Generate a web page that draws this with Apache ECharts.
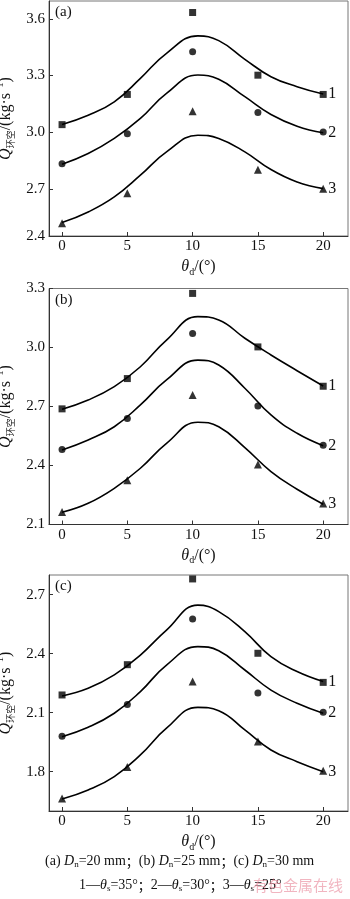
<!DOCTYPE html>
<html><head><meta charset="utf-8">
<script src="https://cdn.jsdelivr.net/npm/echarts@6/dist/echarts.min.js"></script>
<style>html,body{margin:0;padding:0;background:#fff;}#c{width:350px;height:899px;}</style>
</head><body><div id="c"></div>
<script>
// Nozzle deflection angle θd (°) for measured points and for the fitted curves
const thetaD = [0, 5, 10, 15, 20];
const xTickValues = [0, 5, 10, 15, 20];
const curveX = [0, 2, 4, 6, 8, 10.4, 12, 14, 16, 18, 20];

// (a) Dn = 20 mm — measured annular flow
const pointsA1 = [3.04, 3.20, 3.634, 3.302, 3.20];
const pointsA2 = [2.833, 2.992, 3.426, 3.104, 3.001];
const pointsA3 = [2.517, 2.677, 3.111, 2.801, 2.70];
// (a) fitted curves
const curveA1 = [3.041, 3.090, 3.161, 3.285, 3.418, 3.510, 3.485, 3.386, 3.294, 3.241, 3.202];
const curveA2 = [2.830, 2.887, 2.967, 3.073, 3.206, 3.303, 3.280, 3.188, 3.094, 3.032, 2.997];
const curveA3 = [2.521, 2.577, 2.657, 2.772, 2.896, 2.984, 2.967, 2.896, 2.802, 2.736, 2.701];

// (b) Dn = 25 mm
const pointsB1 = [2.688, 2.842, 3.275, 3.003, 2.803];
const pointsB2 = [2.481, 2.639, 3.071, 2.702, 2.503];
const pointsB3 = [2.164, 2.325, 2.758, 2.405, 2.207];
const curveB1 = [2.686, 2.733, 2.801, 2.902, 3.038, 3.157, 3.140, 3.047, 2.962, 2.882, 2.804];
const curveB2 = [2.479, 2.530, 2.597, 2.708, 2.835, 2.936, 2.911, 2.793, 2.657, 2.564, 2.501];
const curveB3 = [2.162, 2.208, 2.284, 2.386, 2.513, 2.620, 2.597, 2.491, 2.369, 2.279, 2.203];

// (c) Dn = 30 mm
const pointsC1 = [2.190, 2.344, 2.780, 2.402, 2.254];
const pointsC2 = [1.980, 2.141, 2.576, 2.200, 2.102];
const pointsC3 = [1.664, 1.824, 2.259, 1.953, 1.805];
const curveC1 = [2.185, 2.224, 2.292, 2.393, 2.520, 2.647, 2.614, 2.512, 2.385, 2.309, 2.258];
const curveC2 = [1.978, 2.026, 2.097, 2.207, 2.342, 2.436, 2.415, 2.317, 2.215, 2.148, 2.097];
const curveC3 = [1.661, 1.707, 1.775, 1.885, 2.021, 2.127, 2.110, 2.012, 1.910, 1.851, 1.800];

// Y-axis ticks and labels per panel
const yTickValuesA = [2.45, 2.7, 3.0, 3.3, 3.6];
const yTickLabelsA = ['2.4', '2.7', '3.0', '3.3', '3.6'];
const yTickValuesB = [2.1, 2.4, 2.7, 3.0, 3.3];
const yTickLabelsB = ['2.1', '2.4', '2.7', '3.0', '3.3'];
const yTickValuesC = [1.8, 2.1, 2.4, 2.7];
const yTickLabelsC = ['1.8', '2.1', '2.4', '2.7'];

const curveNames = ['1', '2', '3'];
const panelTags = ['(a)', '(b)', '(c)'];

const SERIF = '"Liberation Serif","Times New Roman",serif';
const CJK = '"Noto Sans CJK SC",sans-serif';

const panels = [
  { tag: panelTags[0], top: 1, height: 235, min: 2.45, max: 3.695,
    tv: yTickValuesA, tl: yTickLabelsA, pts: [pointsA1, pointsA2, pointsA3], crv: [curveA1, curveA2, curveA3] },
  { tag: panelTags[1], top: 288.5, height: 236, min: 2.1, max: 3.3,
    tv: yTickValuesB, tl: yTickLabelsB, pts: [pointsB1, pointsB2, pointsB3], crv: [curveB1, curveB2, curveB3] },
  { tag: panelTags[2], top: 575, height: 236, min: 1.6, max: 2.8,
    tv: yTickValuesC, tl: yTickLabelsC, pts: [pointsC1, pointsC2, pointsC3], crv: [curveC1, curveC2, curveC3] }
];

const symbols = ['rect', 'circle', 'triangle'];
const symbolSizes = [7, 7, 8];

const grids = [], xAxes = [], yAxes = [], series = [], graphics = [];

panels.forEach((p, i) => {
  grids.push({ left: 49, width: 299, top: p.top, height: p.height, show: true,
    containLabel: false, outerBoundsMode: 'none',
    borderColor: '#777', borderWidth: 1, backgroundColor: 'transparent' });
  xAxes.push({
    type: 'value', gridIndex: i, min: -1, max: 21.9,
    axisLine: { show: true, onZero: false, lineStyle: { color: '#333', width: 1 } },
    axisTick: { show: true, inside: true, length: 4, customValues: xTickValues, lineStyle: { color: '#333' } },
    axisLabel: { customValues: xTickValues, color: '#111', fontFamily: SERIF, fontSize: 15, margin: 3 },
    splitLine: { show: false },
    name: '{t|θ}{s|d}{n|/(°)}', nameLocation: 'middle', nameGap: 21,
    nameTextStyle: { rich: {
      t: { fontFamily: SERIF, fontStyle: 'italic', fontSize: 16, color: '#111', lineHeight: 20 },
      s: { fontFamily: SERIF, fontSize: 10, color: '#111', verticalAlign: 'bottom', lineHeight: 12 },
      n: { fontFamily: SERIF, fontSize: 16, color: '#111', lineHeight: 20 }
    } }
  });
  const tv = p.tv, tl = p.tl;
  yAxes.push({
    type: 'value', gridIndex: i, min: p.min, max: p.max,
    axisLine: { show: true, onZero: false, lineStyle: { color: '#333', width: 1 } },
    axisTick: { show: true, inside: true, length: 4, customValues: tv.filter(v => v > p.min + 0.01), lineStyle: { color: '#333' } },
    axisLabel: { customValues: tv, color: '#111', fontFamily: SERIF, fontSize: 15, margin: 4,
      formatter: v => { let k = 0; tv.forEach((t, j) => { if (Math.abs(t - v) < Math.abs(tv[k] - v)) k = j; }); return tl[k]; } },
    splitLine: { show: false },
    name: '{q|Q}{s|环空}{n|/(kg·s}{u|−1}{n|)}', nameLocation: 'middle', nameGap: 26,
    nameTextStyle: { rich: {
      q: { fontFamily: SERIF, fontStyle: 'italic', fontSize: 16, color: '#111', lineHeight: 20 },
      s: { fontFamily: CJK, fontSize: 9, color: '#111', verticalAlign: 'bottom', lineHeight: 11 },
      u: { fontFamily: SERIF, fontSize: 10, color: '#111', verticalAlign: 'top', lineHeight: 12 },
      n: { fontFamily: SERIF, fontSize: 16, color: '#111', lineHeight: 20 }
    } }
  });
  for (let k = 0; k < 3; k++) {
    series.push({
      type: 'line', xAxisIndex: i, yAxisIndex: i, smooth: 0.45, showSymbol: false, silent: true,
      data: curveX.map((x, j) => [x, p.crv[k][j]]),
      lineStyle: { color: '#000', width: 1.6 },
      endLabel: { show: true, formatter: curveNames[k], color: '#111', fontFamily: SERIF, fontSize: 16, distance: 5 },
      z: 2
    });
    series.push({
      type: 'scatter', xAxisIndex: i, yAxisIndex: i,
      symbol: symbols[k], symbolSize: symbolSizes[k],
      data: thetaD.map((x, j) => [x, p.pts[k][j]]),
      itemStyle: { color: '#000' }, z: 3
    });
  }
  graphics.push({ type: 'text', left: 55, top: p.top + 4,
    style: { text: p.tag, fontFamily: SERIF, fontSize: 15, fill: '#111' } });
});

// Caption lines
const captionRich = {
  i: { fontFamily: SERIF, fontStyle: 'italic', fontSize: 14, lineHeight: 17, fill: '#111' },
  s: { fontFamily: SERIF, fontSize: 9, verticalAlign: 'bottom', lineHeight: 11, fill: '#111' },
  c: { fontFamily: CJK, fontSize: 13, lineHeight: 17, fill: '#111' }
};
graphics.push({ type: 'text', left: 45, top: 854,
  style: { text: '(a) {i|D}{s|n}=20 mm{c|；}(b) {i|D}{s|n}=25 mm{c|；}(c) {i|D}{s|n}=30 mm',
    fontFamily: SERIF, fontSize: 14, fill: '#111', rich: captionRich } });
graphics.push({ type: 'text', left: 79, top: 878,
  style: { text: '1—{i|θ}{s|s}=35°{c|；}2—{i|θ}{s|s}=30°{c|；}3—{i|θ}{s|s}=25°',
    fontFamily: SERIF, fontSize: 14, fill: '#111', rich: captionRich } });
graphics.push({ type: 'text', left: 253, top: 878,
  style: { text: '有色金属在线', fontFamily: CJK, fontSize: 15, fill: 'rgba(230,120,140,0.55)' } });

const chart = echarts.init(document.getElementById('c'), null, { renderer: 'canvas' });
chart.setOption({
  animation: false,
  backgroundColor: '#fff',
  grid: grids, xAxis: xAxes, yAxis: yAxes, series: series, graphic: graphics
});
</script></body></html>
